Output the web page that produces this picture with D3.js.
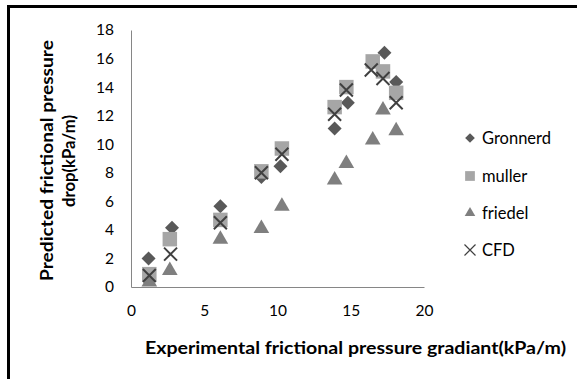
<!DOCTYPE html>
<html><head><meta charset="utf-8">
<script src="https://cdn.jsdelivr.net/npm/d3@7"></script>
<style>html,body{margin:0;padding:0;background:#fff;overflow:hidden}</style>
</head><body>
<svg id="c" width="577" height="379"></svg>
<script>
const xTicks = [0, 5, 10, 15, 20];
const yTicks = [0, 2, 4, 6, 8, 10, 12, 14, 16, 18];
const seriesNames = ["Gronnerd", "muller", "friedel", "CFD"];
const gronnerd = [[1.2,2.0],[2.8,4.15],[6.1,5.65],[8.9,7.7],[10.2,8.45],[13.9,11.1],[14.8,12.9],[17.3,16.4],[18.1,14.35]];
const muller = [[1.25,0.9],[2.65,3.35],[6.1,4.7],[8.9,8.1],[10.3,9.7],[13.9,12.6],[14.7,14.0],[16.5,15.8],[17.2,15.1],[18.1,13.6]];
const friedel = [[1.25,0.35],[2.65,1.15],[6.1,3.35],[8.9,4.1],[10.3,5.65],[13.9,7.5],[14.7,8.65],[16.5,10.3],[17.2,12.4],[18.1,10.95]];
const cfd = [[1.25,0.8],[2.7,2.3],[6.1,4.5],[8.9,8.0],[10.3,9.3],[13.9,12.1],[14.7,13.8],[16.4,15.2],[17.2,14.6],[18.1,12.9]];

const svg = d3.select("#c");
const font = "Lato, 'Open Sans', sans-serif";
svg.append("rect").attr("width",577).attr("height",379).attr("fill","#fff");
// frame
svg.append("path").attr("d","M8.5,379 V6.5 H577").attr("fill","none").attr("stroke","#000").attr("stroke-width",3);

const x = d3.scaleLinear().domain([0,20]).range([131,424]);
const y = d3.scaleLinear().domain([0,18]).range([287,30]);

const xAxis = svg.append("g").attr("transform","translate(0,287)")
  .call(d3.axisBottom(x).tickValues(xTicks).tickSize(0).tickPadding(18));
const yAxis = svg.append("g").attr("transform","translate(131,0)")
  .call(d3.axisLeft(y).tickValues(yTicks).tickSize(0).tickPadding(17));
[xAxis,yAxis].forEach(g=>{
  g.select(".domain").attr("stroke","#868686").attr("stroke-width",1);
  g.selectAll("text").attr("font-family",font).attr("font-size",15.5).attr("fill","#000");
});

const sym = {
  diamond: d3.symbol().type(d3.symbolDiamond2).size(125),
  square: d3.symbol().type(d3.symbolSquare).size(210),
  triangle: d3.symbol().type(d3.symbolTriangle2).size(175),
};
const colors = {g:"#595959", m:"#a6a6a6", f:"#7f7f7f", c:"#404040"};

svg.append("g").selectAll("path").data(gronnerd).join("path")
  .attr("d",sym.diamond).attr("transform",d=>`translate(${x(d[0])},${y(d[1])})`).attr("fill",colors.g);
svg.append("g").selectAll("path").data(muller).join("path")
  .attr("d",sym.square).attr("transform",d=>`translate(${x(d[0])},${y(d[1])})`).attr("fill",colors.m);
svg.append("g").selectAll("path").data(friedel).join("path")
  .attr("d",sym.triangle).attr("transform",d=>`translate(${x(d[0])},${y(d[1])})`).attr("fill",colors.f);
const xs = 6.5;
svg.append("g").selectAll("path").data(cfd).join("path")
  .attr("d",`M${-xs},${-xs}L${xs},${xs}M${-xs},${xs}L${xs},${-xs}`)
  .attr("transform",d=>`translate(${x(d[0])},${y(d[1])})`).attr("stroke",colors.c).attr("stroke-width",2).attr("fill","none");

// legend
const legY = [138, 176, 213, 250];
const lg = svg.append("g");
lg.append("path").attr("d",d3.symbol().type(d3.symbolDiamond2).size(60)()).attr("transform",`translate(470,${legY[0]})`).attr("fill",colors.g);
lg.append("path").attr("d",d3.symbol().type(d3.symbolSquare).size(95)()).attr("transform",`translate(470,${legY[1]})`).attr("fill",colors.m);
lg.append("path").attr("d",d3.symbol().type(d3.symbolTriangle2).size(80)()).attr("transform",`translate(470,${legY[2]})`).attr("fill",colors.f);
lg.append("path").attr("d","M-5.5,-5.5L5.5,5.5M-5.5,5.5L5.5,-5.5").attr("transform",`translate(470,${legY[3]})`).attr("stroke",colors.c).attr("stroke-width",1.2);
lg.selectAll("text").data(seriesNames).join("text")
  .attr("x",482).attr("y",(d,i)=>legY[i]).attr("dy","0.35em")
  .attr("font-family",font).attr("font-size",16.5).attr("fill","#000").text(d=>d);

// axis titles
svg.append("text").attr("x",145).attr("y",348).attr("dy","0.35em")
  .attr("font-family",font).attr("font-weight","bold").attr("font-size",16.5).attr("fill","#000")
  .attr("textLength",421).attr("lengthAdjust","spacingAndGlyphs")
  .text("Experimental frictional pressure gradiant(kPa/m)");
svg.append("text").attr("transform","translate(47,281) rotate(-90)")
  .attr("font-family",font).attr("font-weight","bold").attr("font-size",16.5).attr("fill","#000")
  .attr("dy","0.35em").attr("textLength",241).attr("lengthAdjust","spacingAndGlyphs")
  .text("Predicted frictional pressure");
svg.append("text").attr("transform","translate(69,207) rotate(-90)")
  .attr("font-family",font).attr("font-weight","bold").attr("font-size",16.5).attr("fill","#000")
  .attr("dy","0.35em").attr("textLength",92).attr("lengthAdjust","spacingAndGlyphs")
  .text("drop(kPa/m)");
</script>
</body></html>
